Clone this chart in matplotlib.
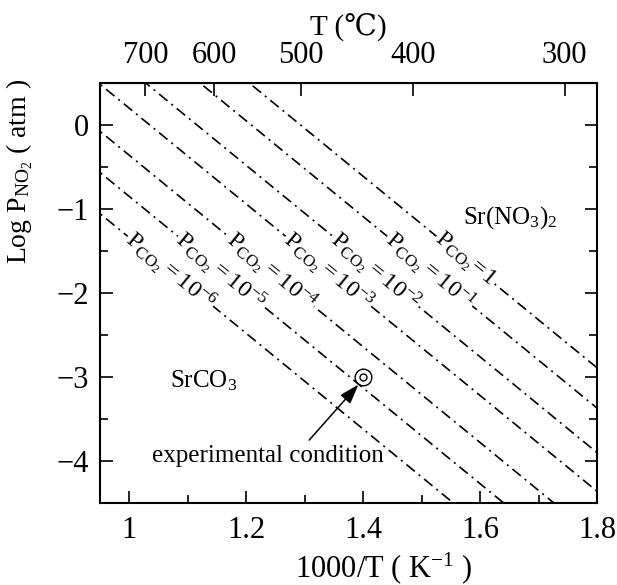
import numpy as np
import matplotlib
matplotlib.use('Agg')
import matplotlib.pyplot as plt

plt.rcParams['font.family'] = ['Liberation Serif', 'DejaVu Serif']
plt.rcParams['mathtext.fontset'] = 'custom'
plt.rcParams['mathtext.rm'] = 'Liberation Serif'
plt.rcParams['mathtext.it'] = 'Liberation Serif:italic'

# log P_CO2 of each line and the line intercepts
log_pco2 = [0, -1, -2, -3, -4, -5, -6]
intercepts = [7.37, 6.89, 6.36, 5.90, 5.34, 4.85, 4.36]
slope = -5.7
label_y = -1.33

# experimental condition
exp_x = [1.40]
exp_y = [-3.0]

x_ticks = [1.0, 1.2, 1.4, 1.6, 1.8]
x_ticklabels = ['1', '1.2', '1.4', '1.6', '1.8']
y_ticks = [0, -1, -2, -3, -4]
t_ticks = [700, 600, 500, 400, 300]

fig = plt.figure(figsize=(6.17, 5.85), dpi=100)
ax = fig.add_axes([100 / 617, 1 - 503 / 585, 497 / 617, 420 / 585])
ax.set_xlim(0.95, 1.80)
ax.set_ylim(-4.5, 0.5)

# angle of the lines on screen
p = ax.transData.transform([[1.0, 0.0], [1.1, 0.1 * slope]])
angle = np.degrees(np.arctan2(p[1, 1] - p[0, 1], p[1, 0] - p[0, 0]))

xs = np.array([0.9, 1.9])
for k, c in zip(log_pco2, intercepts):
    ax.plot(xs, c + slope * xs, color='black', lw=1.2, dashes=(6.5, 3.0, 1.2, 3.0))
    if k == 0:
        lab = r'$\mathregular{P_{CO_2}\!=\!1}$'
    else:
        lab = r'$\mathregular{P_{CO_2} = 10^{%d}}$' % k
    x0 = (c - label_y) / -slope
    ax.text(x0, label_y, lab, rotation=angle, rotation_mode='anchor',
            ha='left', va='center', fontsize=17.5,
            bbox=dict(facecolor='white', edgecolor='none', pad=0.5))

ax.plot(exp_x, exp_y, 'o', mfc='none', mec='black', ms=12, mew=1.0)
ax.plot(exp_x, exp_y, 'o', mfc='none', mec='black', ms=5, mew=1.0)

ax.text(1.571, -1.10, r'Sr(NO$_3$)$_2$', ha='left', va='center', fontsize=18)
ax.text(1.069, -3.04, r'SrCO$_3$', ha='left', va='center', fontsize=18)
ax.annotate('experimental condition', xy=(1.392, -3.09), xytext=(1.237, -3.94),
            ha='center', va='center', fontsize=18,
            arrowprops=dict(arrowstyle='-|>,head_length=0.6,head_width=0.2',
                            color='black', lw=1.1, relpos=(0.66, 1.0),
                            shrinkA=2, shrinkB=0, mutation_scale=20))

ax.set_xticks(x_ticks)
ax.set_xticklabels(x_ticklabels)
ax.set_xticks(np.arange(1.1, 1.8, 0.2), minor=True)
ax.set_yticks(y_ticks)
ax.set_yticks(np.arange(-4.5, 0.6, 0.5), minor=True)
ax.tick_params(which='both', direction='in', top=False, right=True, width=1.2, labelsize=22)
ax.tick_params(which='major', length=9)
ax.tick_params(which='minor', length=6)
ax.tick_params(axis='x', pad=9)
ax.tick_params(axis='y', pad=8)
for s in ax.spines.values():
    s.set_linewidth(1.5)

secax = ax.secondary_xaxis('top', functions=(lambda x: 1000 / x - 273.15,
                                             lambda t: 1000 / (t + 273.15)))
secax.set_xticks(t_ticks)
secax.tick_params(direction='in', length=9, width=1.2, labelsize=22, pad=9)
secax.set_xlabel('T (℃)', fontsize=21, labelpad=4)

ax.set_xlabel(r'1000/T ( K$^{-1}$ )', fontsize=22)
ax.xaxis.set_label_coords(0.571, -0.112)
ax.set_ylabel(r'Log P$_{\mathregular{NO_2}}$ ( atm )', fontsize=20)
ax.yaxis.set_label_coords(-0.13, 0.79)

fig.savefig('out.png', dpi=100)
